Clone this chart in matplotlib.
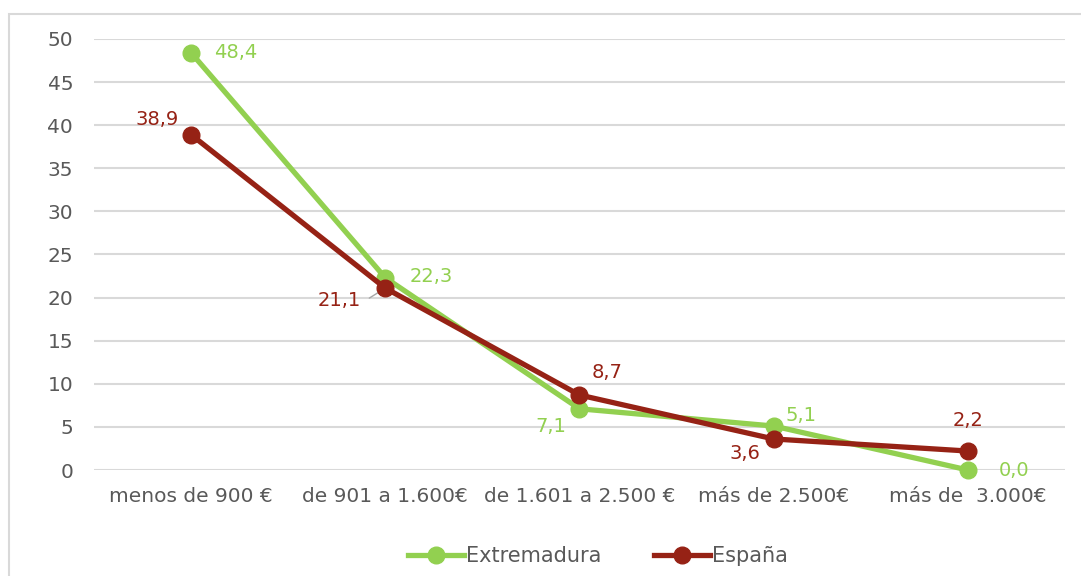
import matplotlib.pyplot as plt
from matplotlib.patches import Rectangle

categorias = ['menos de 900 €', 'de 901 a 1.600€', 'de 1.601 a 2.500 €', 'más de 2.500€', 'más de  3.000€']
extremadura = [48.4, 22.3, 7.1, 5.1, 0.0]
espana = [38.9, 21.1, 8.7, 3.6, 2.2]

verde = '#92D050'
rojo = '#962215'

# offsets (px) of the data labels
off_ext = [(45, 0), (46, 1), (-29, -18), (27, 11), (46, 0)]
off_esp = [(-34, 15), (-46, -12), (28, 23), (-29, -15), (0, 31)]

plt.rcParams['font.family'] = 'DejaVu Sans'

fig = plt.figure(figsize=(10.81, 5.76), dpi=100)
fig.patches.append(Rectangle((9 / 1081, -0.01), 1.1, 1 - 14 / 576 + 0.01,
                             transform=fig.transFigure, fill=False,
                             edgecolor='#D9D9D9', linewidth=1.5))
ax = fig.add_axes([94 / 1081, 1 - 470 / 576, (1065 - 94) / 1081, (470 - 39) / 576])

x = list(range(len(categorias)))
ax.plot(x, extremadura, color=verde, lw=3.8, marker='o', ms=12, label='Extremadura',
        clip_on=False, zorder=3)
ax.plot(x, espana, color=rojo, lw=3.8, marker='o', ms=12, label='España',
        clip_on=False, zorder=4)

for i, v in enumerate(extremadura):
    ax.annotate(f'{v:.1f}'.replace('.', ','), (i, v), xytext=off_ext[i],
                textcoords='offset pixels', ha='center', va='center',
                color=verde, fontsize=14)
for i, v in enumerate(espana):
    ax.annotate(f'{v:.1f}'.replace('.', ','), (i, v), xytext=off_esp[i],
                textcoords='offset pixels', ha='center', va='center',
                color=rojo, fontsize=14)
# leader line for 21,1
ax.annotate('', (1, espana[1]), xytext=(-16, -10), textcoords='offset pixels',
            arrowprops=dict(arrowstyle='-', color='#A6A6A6', lw=1, shrinkA=0, shrinkB=4))

ax.set_xlim(-0.5, len(categorias) - 0.5)
ax.set_ylim(0, 50)
ax.set_yticks(range(0, 51, 5))
ax.set_xticks(x)
ax.set_xticklabels(categorias)
ax.tick_params(axis='both', length=0, labelsize=14.5, colors='#595959')
ax.tick_params(axis='x', pad=12)
ax.tick_params(axis='y', pad=15)
ax.grid(axis='y', color='#D9D9D9', lw=1.5)
ax.set_axisbelow(True)
for s in ax.spines.values():
    s.set_visible(False)

ax.legend(loc='center', bbox_to_anchor=(0.519, -0.2), ncol=2, frameon=False,
          fontsize=15, handlelength=2.7, handletextpad=0.1, columnspacing=2.5,
          labelcolor='#595959')

fig.savefig('out.png', dpi=100)
